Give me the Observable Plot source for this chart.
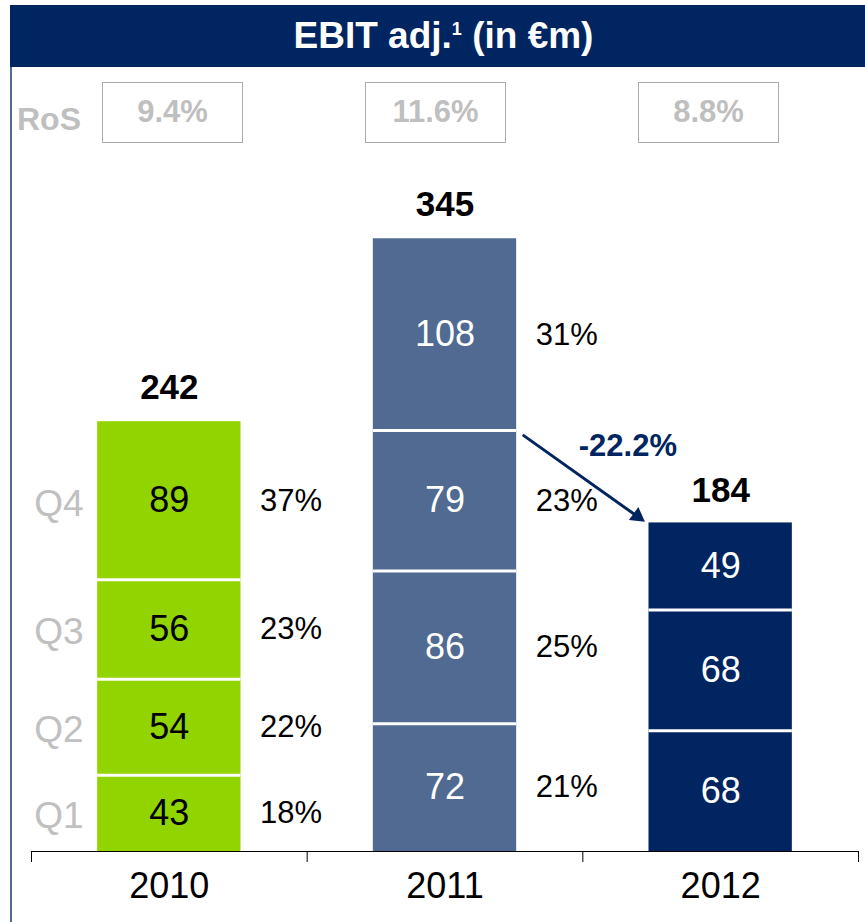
<!DOCTYPE html>
<html>
<head>
<meta charset="utf-8">
<script src="https://cdn.jsdelivr.net/npm/d3@7"></script>
<script src="https://cdn.jsdelivr.net/npm/@observablehq/plot@0.6"></script>
<style>
  body { margin: 0; background: #fff; font-family: "Liberation Sans", Arial, sans-serif; }
  #wrap { position: relative; width: 865px; height: 922px; overflow: hidden; }
  #panel { position: absolute; left: 10px; top: 5px; width: 855px; height: 917px; border-left: 2px solid #4d6b97; box-sizing: border-box; }
  #header { position: absolute; left: 10px; top: 5px; width: 855px; height: 62px; background: #002561; color: #fff;
            font-weight: bold; font-size: 37px; line-height: 62px; text-align: center; padding-left: 12px; box-sizing: border-box; white-space: nowrap; }
  #header sup { font-size: 18px; position: relative; top: -13px; vertical-align: baseline; line-height: 0; }
  .roslabel { position: absolute; left: 17px; top: 103px; font-size: 32px; line-height: 32px; font-weight: bold; color: #bfbfbf; }
  .rosbox { position: absolute; top: 82px; width: 141px; height: 61px; border: 1.5px solid #ababab; box-sizing: border-box;
            text-align: center; font-size: 31px; line-height: 58px; font-weight: bold; color: #bfbfbf; }
  #chart { position: absolute; left: 0; top: 150px; }
</style>
</head>
<body>
<div id="wrap">
  <div id="panel"></div>
  <div id="header">EBIT adj.<sup>1</sup> (in €m)</div>
  <div class="roslabel">RoS</div>
  <div id="chart"></div>
</div>
<script>
// ---- data ----
const years = ["2010", "2011", "2012"];
const quarters = ["Q1", "Q2", "Q3", "Q4"];
const ebit2010 = [43, 54, 56, 89];
const ebit2011 = [72, 86, 79, 108];
const ebit2012 = [68, 68, 49];
const totals = [242, 345, 184];
const share2010 = ["18%", "22%", "23%", "37%"];
const share2011 = ["21%", "25%", "23%", "31%"];
const ros = ["9.4%", "11.6%", "8.8%"];
const change = "-22.2%";

// ---- layout / style constants ----
const barColors = ["#92d400", "#506a91", "#002561"];
const labelColors = ["#000", "#fff", "#fff"];
const rosBoxLeft = [102, 365, 638];
const pad = 0.24; // bar inset within each year slot

// RoS boxes
ros.forEach((r, i) => {
  const d = document.createElement("div");
  d.className = "rosbox";
  d.style.left = rosBoxLeft[i] + "px";
  d.textContent = r;
  document.getElementById("wrap").appendChild(d);
});

// stacked segments
const series = [ebit2010, ebit2011, ebit2012];
const shares = [share2010, share2011, null];
const segs = [];
series.forEach((vals, i) => {
  let acc = 0;
  vals.forEach((v, q) => {
    segs.push({i, year: years[i], q: quarters[q], value: v, y1: acc, y2: acc + v,
               share: shares[i] ? shares[i][q] : null, last: q === vals.length - 1});
    acc += v;
  });
});
const totalData = totals.map((t, i) => ({i, total: t}));
const from = segs.filter(d => d.i === 1 && d.q === "Q3")[0].y2; // 9M 2011
const arrowData = [{x1: 1 + 1 - pad, y1: from, x2: 2 + pad, y2: totals[2]}];
const qLabels = segs.filter(d => d.i === 0);

const chart = Plot.plot({
  width: 865,
  height: 772,
  marginLeft: 31,
  marginRight: 7,
  marginTop: 0,
  marginBottom: 71,
  x: {domain: [0, 3], axis: null},
  y: {domain: [0, 394.7], axis: null},
  color: {domain: years, range: barColors},
  style: {fontFamily: "Liberation Sans, Arial, sans-serif", fontSize: "16px", color: "#000", background: "transparent", overflow: "visible"},
  marks: [
    Plot.rect(segs, {x1: d => d.i + pad, x2: d => d.i + 1 - pad, y1: "y1", y2: "y2", fill: "year"}),
    Plot.ruleY(segs.filter(d => !d.last), {x1: d => d.i + pad, x2: d => d.i + 1 - pad, y: "y2", stroke: "#fff", strokeWidth: 3}),
    Plot.ruleY([0], {stroke: "#000", strokeWidth: 1}),
    Plot.axisX({ticks: [0, 1, 2, 3], tickSize: 11, tickFormat: () => "", stroke: "#000"}),
    Plot.axisX({ticks: [0.5, 1.5, 2.5], tickSize: 0, tickPadding: 21, fontSize: 36, fill: "#000",
                tickFormat: v => years[Math.floor(v)]}),
    // segment values
    Plot.text(segs.filter(d => d.i === 0), {x: d => d.i + 0.5, y: d => (d.y1 + d.y2) / 2, text: d => String(d.value),
               fill: labelColors[0], fontSize: 36}),
    Plot.text(segs.filter(d => d.i > 0), {x: d => d.i + 0.5, y: d => (d.y1 + d.y2) / 2, text: d => String(d.value),
               fill: labelColors[1], fontSize: 36}),
    // shares
    Plot.text(segs.filter(d => d.share), {x: d => d.i + 1 - pad, y: d => (d.y1 + d.y2) / 2, text: "share",
               dx: 19, textAnchor: "start", fill: "#000", fontSize: 31}),
    // quarter labels
    Plot.text(qLabels, {x: d => d.i + pad, y: d => (d.y1 + d.y2) / 2, text: "q", dx: -14, dy: 3, textAnchor: "end",
               fill: "#c0c0c0", fontSize: 37}),
    // totals
    Plot.text(totalData, {x: d => d.i + 0.5, y: "total", text: d => String(d.total), lineAnchor: "bottom", dy: -23,
               fontWeight: "bold", fontSize: 35, fill: "#000"}),
    // arrow (shaft + filled head) and change
    Plot.arrow(arrowData, {x1: "x1", y1: "y1", x2: "x2", y2: "y2", stroke: "#002561", strokeWidth: 3,
               insetStart: 8.7, insetEnd: 14, headLength: 0}),
    Plot.dot(arrowData, {x: "x2", y: "y2", symbol: "triangle", r: 6, rotate: 126, fill: "#002561", stroke: "none",
               dx: -11.6, dy: -8.4}),
    Plot.text(arrowData, {x: d => (d.x1 + d.x2) / 2, y: d => (d.y1 + d.y2) / 2, text: () => change,
               dx: 45, dy: -32, fontWeight: "bold", fontSize: 31, fill: "#002561"})
  ]
});
document.getElementById("chart").appendChild(chart);
</script>
</body>
</html>
